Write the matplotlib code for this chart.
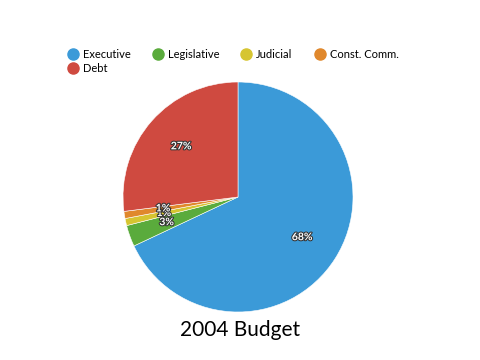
import matplotlib
matplotlib.use("Agg")
import matplotlib.pyplot as plt
import matplotlib.patheffects as pe
from matplotlib.lines import Line2D

# ── data ─────────────────────────────────────
labels = ["Executive", "Legislative", "Judicial", "Const. Comm.", "Debt"]
values = [68, 3, 1, 1, 27]
colors = ["#3b9ad8", "#5aab3c", "#d6c531", "#e0882c", "#cf4a40"]
title = "2004 Budget"

plt.rcParams["font.family"] = ["Lato", "DejaVu Sans"]

fig = plt.figure(figsize=(4.8, 3.6), dpi=100)
fig.patch.set_facecolor("white")

# pie centred at (238, 197) px, radius ~115 px
cx, cy, r = 238, 197, 115
ax = fig.add_axes([(cx - r) / 480, (360 - cy - r) / 360, 2 * r / 480, 2 * r / 360])
wedges, texts, autotexts = ax.pie(
    values, colors=colors, startangle=90, counterclock=False,
    autopct="%d%%", pctdistance=0.66, radius=1,
    wedgeprops=dict(edgecolor="white", linewidth=0.4),
    textprops=dict(color="white", fontsize=7.5, fontweight="bold"),
)
for t in autotexts:
    t.set_path_effects([pe.withStroke(linewidth=1.5, foreground="#333333")])
ax.set_xlim(-1, 1)
ax.set_ylim(-1, 1)
ax.set_aspect("equal")
ax.axis("off")

# legend, row-major order (matplotlib fills columns first)
handles = [Line2D([], [], marker="o", linestyle="", markersize=8,
                  markerfacecolor=c, markeredgecolor=c) for c in colors]
order = [0, 4, 1, 2, 3]
fig.legend([handles[i] for i in order], [labels[i] for i in order],
           loc="upper left", bbox_to_anchor=(0.128, 0.877), ncol=4,
           frameon=False, fontsize=8, handletextpad=0.3, columnspacing=1.85,
           labelspacing=0.3, handlelength=1.2, borderaxespad=0)

fig.text(240 / 480, 1 - 330 / 360, title, ha="center", va="center", fontsize=15)

fig.savefig("out.png", dpi=100)
